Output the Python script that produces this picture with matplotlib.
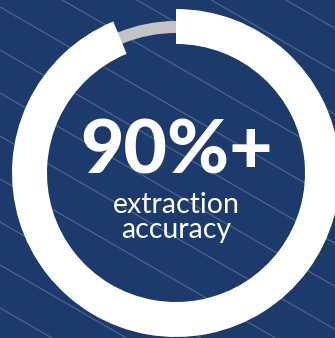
import numpy as np
import matplotlib.pyplot as plt
from matplotlib import font_manager as fm

# ring values (share of the circle)
accuracy = 93.75
remainder = 100 - accuracy
big_label = "90%+"
sub_label = ["extraction", "accuracy"]

bg = "#1c3a6b"
W, H = 335, 338


def lato(fname):
    for f in fm.fontManager.ttflist:
        if f.fname.endswith(fname):
            return fm.FontProperties(fname=f.fname)
    return fm.FontProperties(family="Lato", weight="bold")


heavy = lato("Lato-Black.ttf")
regular = lato("Lato-Regular.ttf")

fig = plt.figure(figsize=(W / 100, H / 100), dpi=100, facecolor=bg)
ax = fig.add_axes([0, 0, 1, 1])
ax.set_facecolor(bg)

# diagonal background stripes
slope = -np.tan(np.radians(30))
for y0 in np.arange(H - 7 + 43 * 8, -43 * 6, -43):
    ax.axline((0, y0), slope=slope, color="white", alpha=0.22, lw=0.9, zorder=0)

cx, cy = 176, H - 173

# thin grey track
ax.pie([1], colors=["#c3c3c5"], radius=152, center=(cx, cy),
       wedgeprops=dict(width=12, linewidth=0), frame=True)
# white progress ring
ax.pie([accuracy, remainder], colors=["white", "none"], radius=164,
       center=(cx, cy), startangle=90, counterclock=False,
       wedgeprops=dict(width=35, linewidth=0), frame=True)

ax.set_xlim(0, W)
ax.set_ylim(0, H)
ax.set_aspect("equal")
ax.axis("off")

ax.text(cx + 0.5, H - 173, big_label, ha="center", va="baseline",
        fontproperties=heavy, fontsize=54, color="white")
ax.text(cx, H - 213, sub_label[0], ha="center", va="baseline",
        fontproperties=regular, fontsize=20.5, color="white")
ax.text(cx, H - 238, sub_label[1], ha="center", va="baseline",
        fontproperties=regular, fontsize=20.5, color="white")

fig.savefig("out.png", dpi=100, facecolor=bg)
